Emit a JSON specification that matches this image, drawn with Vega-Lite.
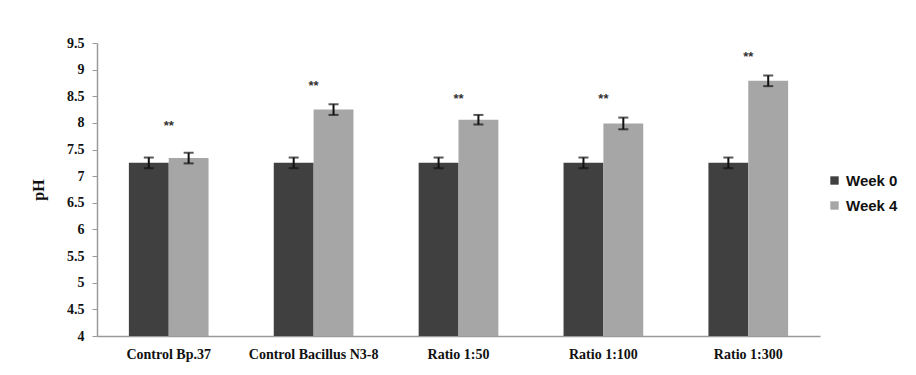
{
  "$schema": "https://vega.github.io/schema/vega-lite/v6.json",
  "width": 723,
  "height": 293,
  "autosize": "none",
  "padding": {"left": 97, "top": 43, "right": 96, "bottom": 39},
  "background": "white",
  "config": {
    "view": {"stroke": null},
    "axisY": {
      "grid": false,
      "labelFont": "Liberation Serif",
      "labelFontWeight": "bold",
      "labelFontSize": 14,
      "labelColor": "#111111",
      "labelPadding": 8,
      "tickSize": 5,
      "tickColor": "#9a9a9a",
      "domainColor": "#9a9a9a",
      "domainWidth": 1.5,
      "titleFont": "Liberation Serif",
      "titleFontWeight": "bold",
      "titleFontSize": 16,
      "titleColor": "#111111",
      "titlePadding": 20
    }
  },
  "datasets": {
    "bars": [
      {"group": "Control Bp.37", "week": "Week 0", "ph": 7.25, "lo": 7.15, "hi": 7.35},
      {"group": "Control Bp.37", "week": "Week 4", "ph": 7.34, "lo": 7.24, "hi": 7.44},
      {"group": "Control Bacillus N3-8", "week": "Week 0", "ph": 7.25, "lo": 7.15, "hi": 7.35},
      {"group": "Control Bacillus N3-8", "week": "Week 4", "ph": 8.25, "lo": 8.15, "hi": 8.35},
      {"group": "Ratio 1:50", "week": "Week 0", "ph": 7.25, "lo": 7.15, "hi": 7.35},
      {"group": "Ratio 1:50", "week": "Week 4", "ph": 8.06, "lo": 7.97, "hi": 8.15},
      {"group": "Ratio 1:100", "week": "Week 0", "ph": 7.25, "lo": 7.15, "hi": 7.35},
      {"group": "Ratio 1:100", "week": "Week 4", "ph": 7.99, "lo": 7.88, "hi": 8.1},
      {"group": "Ratio 1:300", "week": "Week 0", "ph": 7.25, "lo": 7.15, "hi": 7.35},
      {"group": "Ratio 1:300", "week": "Week 4", "ph": 8.79, "lo": 8.69, "hi": 8.89}
    ],
    "stars": [
      {"group": "Control Bp.37", "y": 7.95, "label": "**"},
      {"group": "Control Bacillus N3-8", "y": 8.69, "label": "**"},
      {"group": "Ratio 1:50", "y": 8.45, "label": "**"},
      {"group": "Ratio 1:100", "y": 8.45, "label": "**"},
      {"group": "Ratio 1:300", "y": 9.24, "label": "**"}
    ]
  },
  "encoding": {
    "x": {
      "field": "group",
      "type": "nominal",
      "sort": null,
      "scale": {"paddingInner": 0.45, "paddingOuter": 0.22},
      "axis": {
        "title": null,
        "labelAngle": 0,
        "ticks": false,
        "labelFont": "Liberation Serif",
        "labelFontWeight": "bold",
        "labelFontSize": 14,
        "labelColor": "#111111",
        "labelPadding": 11,
        "domainColor": "#9a9a9a",
        "domainWidth": 1.5
      }
    }
  },
  "layer": [
    {
      "data": {"name": "bars"},
      "mark": {"type": "bar", "clip": true},
      "encoding": {
        "xOffset": {"field": "week", "type": "nominal", "sort": ["Week 0", "Week 4"]},
        "y": {
          "field": "ph",
          "type": "quantitative",
          "scale": {"domain": [4, 9.5], "zero": false, "nice": false},
          "axis": {"title": "pH", "values": [4, 4.5, 5, 5.5, 6, 6.5, 7, 7.5, 8, 8.5, 9, 9.5], "format": "~g"}
        },
        "color": {
          "field": "week",
          "type": "nominal",
          "scale": {"domain": ["Week 0", "Week 4"], "range": ["#404040", "#a6a6a6"]},
          "legend": {
            "title": null,
            "orient": "none",
            "legendX": 730,
            "legendY": 130,
            "symbolType": "square",
            "symbolSize": 70,
            "symbolStrokeWidth": 0,
            "labelFont": "Liberation Sans",
            "labelFontWeight": "bold",
            "labelFontSize": 15,
            "labelColor": "#111111",
            "labelOffset": 4,
            "rowPadding": 9
          }
        }
      }
    },
    {
      "data": {"name": "bars"},
      "mark": {"type": "rule", "color": "#111111", "strokeWidth": 2},
      "encoding": {
        "xOffset": {"field": "week", "type": "nominal", "sort": ["Week 0", "Week 4"]},
        "y": {"field": "lo", "type": "quantitative", "axis": {"title": "pH", "values": [4, 4.5, 5, 5.5, 6, 6.5, 7, 7.5, 8, 8.5, 9, 9.5], "format": "~g"}},
        "y2": {"field": "hi"}
      }
    },
    {
      "data": {"name": "bars"},
      "mark": {"type": "tick", "color": "#111111", "thickness": 2, "size": 10, "orient": "horizontal"},
      "encoding": {
        "xOffset": {"field": "week", "type": "nominal", "sort": ["Week 0", "Week 4"]},
        "y": {"field": "lo", "type": "quantitative", "axis": {"title": "pH", "values": [4, 4.5, 5, 5.5, 6, 6.5, 7, 7.5, 8, 8.5, 9, 9.5], "format": "~g"}}
      }
    },
    {
      "data": {"name": "bars"},
      "mark": {"type": "tick", "color": "#111111", "thickness": 2, "size": 10, "orient": "horizontal"},
      "encoding": {
        "xOffset": {"field": "week", "type": "nominal", "sort": ["Week 0", "Week 4"]},
        "y": {"field": "hi", "type": "quantitative", "axis": {"title": "pH", "values": [4, 4.5, 5, 5.5, 6, 6.5, 7, 7.5, 8, 8.5, 9, 9.5], "format": "~g"}}
      }
    },
    {
      "data": {"name": "stars"},
      "mark": {"type": "text", "font": "Liberation Sans", "fontSize": 13, "fontWeight": "bold", "color": "#333333", "baseline": "middle"},
      "encoding": {
        "y": {"field": "y", "type": "quantitative", "axis": {"title": "pH", "values": [4, 4.5, 5, 5.5, 6, 6.5, 7, 7.5, 8, 8.5, 9, 9.5], "format": "~g"}},
        "text": {"field": "label"}
      }
    }
  ]
}
